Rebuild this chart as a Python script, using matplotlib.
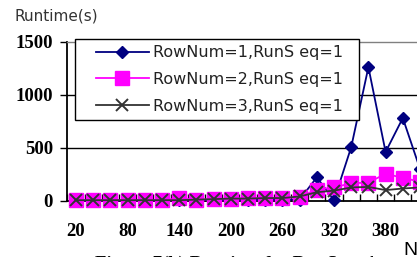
import matplotlib
matplotlib.use('Agg')
import matplotlib.pyplot as plt
from matplotlib.patches import Rectangle
import numpy as np

# data (x axis cut off on the right in the reference)
row_num = [20, 40, 60, 80, 100, 120, 140, 160, 180, 200, 220,
           240, 260, 280, 300, 320, 340, 360, 380, 400, 420]
runtime_row1 = [2, 3, 3, 4, 4, 5, 6, 8, 8, 8, 8,
                10, 10, 10, 220, 5, 505, 1260, 460, 780, 300]
runtime_row2 = [5, 5, 5, 5, 5, 5, 22, 10, 15, 20, 25,
                25, 25, 35, 105, 125, 165, 170, 255, 215, 180]
runtime_row3 = [5, 5, 5, 5, 5, 5, 5, 10, 15, 20, 20,
                25, 25, 40, 80, 95, 125, 130, 100, 115, 125]
series_labels = ['RowNum=1,RunS eq=1', 'RowNum=2,RunS eq=1', 'RowNum=3,RunS eq=1']
y_ticks = [0, 500, 1000, 1500]
x_label_step = 3

W, H = 417, 257
fig = plt.figure(figsize=(W / 100, H / 100), dpi=100)
ax = fig.add_axes([67.4 / W, 1 - 200.7 / H, 361.2 / W, 159 / H])

x = np.arange(len(row_num))
ax.plot(x, runtime_row1, color='#000080', marker='D', ms=6, lw=1.3,
        label=series_labels[0], clip_on=False, zorder=3)
ax.plot(x, runtime_row2, color='#ff00ff', marker='s', ms=9.5, lw=1.3,
        label=series_labels[1], clip_on=False, zorder=3)
ax.plot(x, runtime_row3, color='#333333', marker='x', ms=9, mew=1.4, lw=1.3,
        label=series_labels[2], clip_on=False, zorder=3)

ax.set_xlim(-0.5, len(x) - 0.5)
ax.set_ylim(y_ticks[0], y_ticks[-1])

for v in y_ticks[1:-1]:
    ax.axhline(v, color='black', lw=1, zorder=1)

tick_font = dict(fontfamily='Liberation Serif', fontweight='bold', fontsize=13.5)
ax.set_yticks(y_ticks, labels=[str(v) for v in y_ticks], **tick_font)
ax.set_xticks(x[::x_label_step], labels=[str(v) for v in row_num[::x_label_step]], **tick_font)
ax.set_xticks(np.arange(-0.5, len(x), 1), minor=True)
ax.tick_params(axis='y', direction='out', length=5, width=1, pad=5.5)
ax.tick_params(axis='x', which='major', length=0, pad=16)
ax.tick_params(axis='x', which='minor', direction='in', length=5, width=1)

ax.spines['right'].set_visible(False)
ax.spines['top'].set_color('#808080')
ax.spines['top'].set_linewidth(1)
ax.spines['left'].set_linewidth(1.3)
ax.spines['bottom'].set_linewidth(1.3)

# legend box
ax.add_patch(Rectangle((75 / W, 1 - 120 / H), 284 / W, 81 / H, transform=fig.transFigure,
                       facecolor='white', edgecolor='black', lw=1, clip_on=False, zorder=4))
ax.legend(loc='upper left', bbox_to_anchor=(96 / W, 1 - 45.5 / H),
          bbox_transform=fig.transFigure, frameon=False, borderpad=0, borderaxespad=0,
          handlelength=3.3, handletextpad=0.25, labelspacing=0.72,
          prop={'family': 'DejaVu Sans', 'size': 11.5}, labelcolor='#222222')

fig.text(15 / W, 1 - 20.7 / H, 'Runtime(s)', fontsize=11, color='#333333',
         ha='left', va='baseline')
fig.text(95 / W, 1 - 256 / H, 'Figure 7(b) Runtime for RunSeq=1',
         fontfamily='Liberation Serif', fontweight='bold', fontsize=13.5, va='top')
fig.text(403 / W, 1 - 242 / H, 'N', fontfamily='Liberation Sans', fontsize=14, va='top')

fig.savefig('out.png', dpi=100)
